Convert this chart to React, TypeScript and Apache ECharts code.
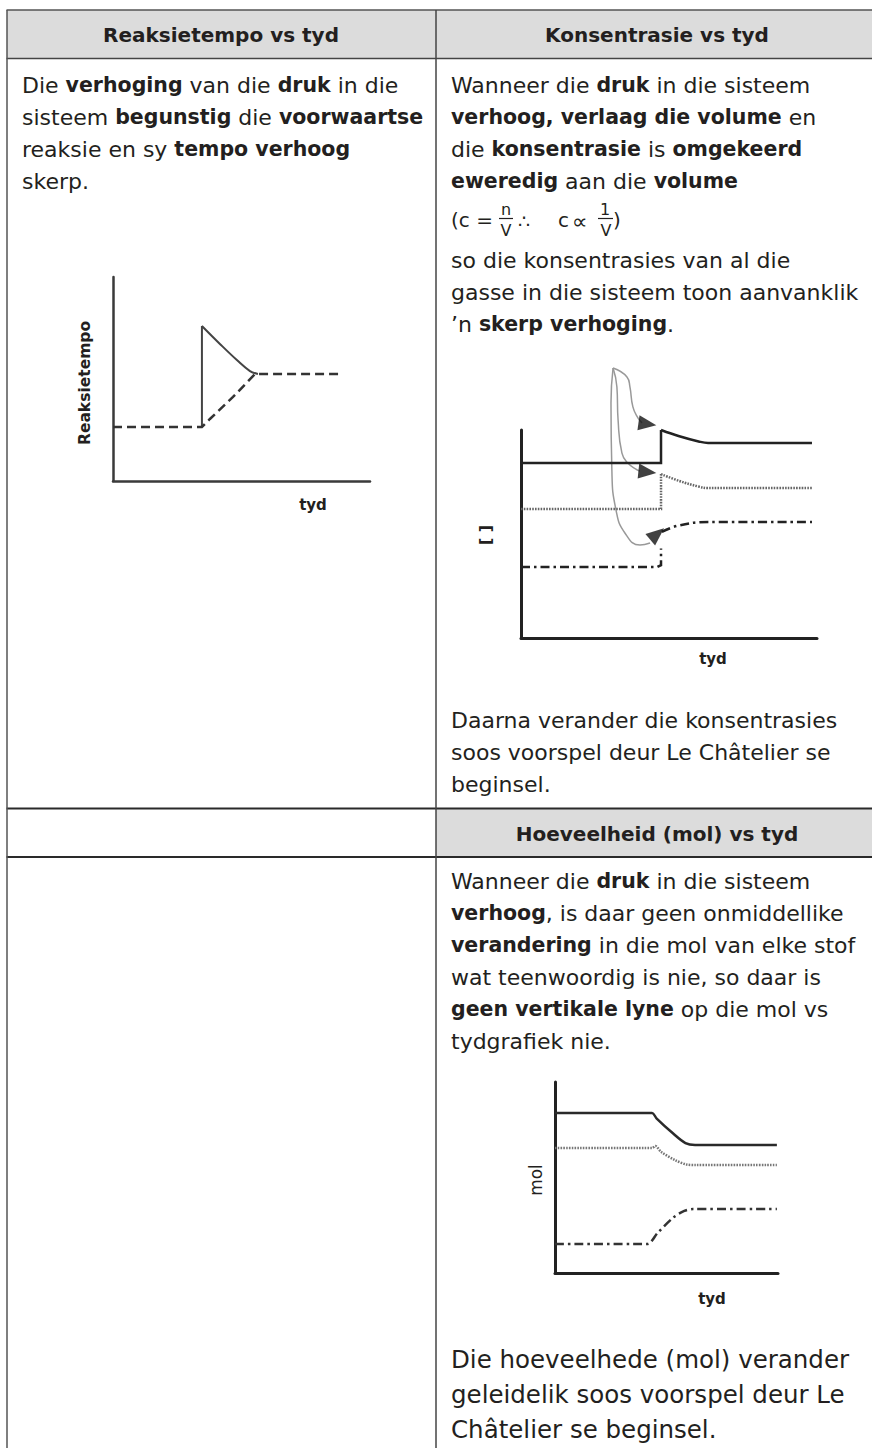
import React, { useEffect, useRef } from "react";
import * as echarts from "echarts";

// ---------- DATA ----------
// Chart 1: Reaksietempo vs tyd (x: time 0..10, y: rate 0..10)
const rateForwardJump = [[3.46, 2.65], [3.46, 7.6]];
const rateForwardDecay = [[3.46, 7.6], [4.16, 6.72], [4.82, 5.93], [5.33, 5.39], [5.64, 5.25]];
const rateReverse = [[0, 2.65], [3.46, 2.65], [3.77, 3.04], [4.67, 4.12], [5.53, 5.25], [8.95, 5.25]];

// Chart 2: Konsentrasie vs tyd
const concSolidStep = [[0, 8.41], [4.73, 8.41], [4.73, 10.0]];
const concSolidDecay = [[4.73, 10.0], [5.35, 9.7], [6.0, 9.45], [6.32, 9.375], [9.83, 9.375]];
const concDottedStep = [[0, 6.2], [4.73, 6.2], [4.73, 7.88]];
const concDottedDecay = [[4.73, 7.88], [5.35, 7.55], [6.0, 7.28], [6.32, 7.21], [9.83, 7.21]];
const concDashDotStep = [[0, 3.41], [4.6, 3.41], [4.73, 3.5], [4.73, 4.3]];
const concDashDotRise = [[4.76, 5.1], [5.3, 5.4], [6.32, 5.58], [9.83, 5.58]];
const arrowCurve1 = [[3.11, 12.98], [3.58, 12.55], [3.68, 12.07], [3.78, 11.11], [3.95, 10.58], [4.09, 10.34]];
const arrowCurve2 = [[3.11, 12.98], [3.24, 12.07], [3.28, 10.48], [3.41, 8.89], [3.61, 8.41], [3.92, 8.08], [4.02, 8.03]];
const arrowCurve3 = [[3.11, 12.98], [3.04, 11.3], [3.07, 8.08], [3.21, 6.15], [3.51, 5.05], [4.02, 4.47], [4.36, 4.57]];
const arrowHeadPoints = [[4.27, 10.29], [4.27, 7.98], [4.6, 5.0]];
const arrowHeadAngles = [-98, -96, -50];

// Chart 3: Hoeveelheid (mol) vs tyd
const molSolid = [[0, 8.38], [4.35, 8.38], [4.55, 8.1], [5.3, 7.3], [5.85, 6.8], [6.28, 6.7], [9.95, 6.7]];
const molDotted = [[0, 6.54], [4.35, 6.54], [4.5, 6.65], [4.75, 6.35], [5.4, 5.9], [5.9, 5.68], [6.28, 5.65], [9.95, 5.65]];
const molDashDot = [[0, 1.52], [4.13, 1.52], [4.6, 2.1], [5.3, 2.9], [5.8, 3.25], [6.19, 3.35], [9.95, 3.35]];

// ---------- TEXT ----------
const headerTexts = ["Reaksietempo vs tyd", "Konsentrasie vs tyd", "Hoeveelheid (mol) vs tyd"];
const leftLines = [
  "Die {b|verhoging} van die {b|druk} in die",
  "sisteem {b|begunstig} die {b|voorwaartse}",
  "reaksie en sy {b|tempo verhoog}",
  "skerp.",
];
const rightTopLines = [
  "Wanneer die {b|druk} in die sisteem",
  "{b|verhoog, verlaag die volume} en",
  "die {b|konsentrasie} is {b|omgekeerd}",
  "{b|eweredig} aan die {b|volume}",
];
const rightTopLines2 = [
  "so die konsentrasies van al die",
  "gasse in die sisteem toon aanvanklik",
  "\u2019n {b|skerp verhoging}.",
];
const daarnaLines = [
  "Daarna verander die konsentrasies",
  "soos voorspel deur Le Ch\u00e2telier se",
  "beginsel.",
];
const molLines = [
  "Wanneer die {b|druk} in die sisteem",
  "{b|verhoog}, is daar geen onmiddellike",
  "{b|verandering} in die mol van elke stof",
  "wat teenwoordig is nie, so daar is",
  "{b|geen vertikale lyne} op die mol vs",
  "tydgrafiek nie.",
];
const closingLines = [
  "Die hoeveelhede (mol) verander",
  "geleidelik soos voorspel deur Le",
  "Ch\u00e2telier se beginsel.",
];

const FONT = "'DejaVu Sans', sans-serif";
const INK = "#231f20";
const BODY = 22;
const BOLD = 20.5;

function txt(x: number, baseline: number, text: string, size: number, opts: any = {}) {
  const align = opts.align || "left";
  return {
    type: "text",
    x,
    y: opts.middle !== undefined ? opts.middle : baseline - 0.35 * size,
    rotation: opts.rotation || 0,
    silent: true,
    z: 10,
    style: {
      text,
      fontFamily: FONT,
      fontSize: size,
      fontWeight: opts.bold ? "bold" : "normal",
      fill: INK,
      align,
      verticalAlign: "middle",
      textAlign: align,
      textVerticalAlign: "middle",
      rich: {
        b: { fontFamily: FONT, fontSize: opts.boldSize || BOLD, fontWeight: "bold", fill: INK },
      },
    },
  };
}

function hline(x1: number, x2: number, y: number, w: number, color: string) {
  return { type: "line", silent: true, z: 5, shape: { x1, y1: y, x2, y2: y }, style: { stroke: color, lineWidth: w } };
}
function vline(x: number, y1: number, y2: number, w: number, color: string) {
  return { type: "line", silent: true, z: 5, shape: { x1: x, y1, x2: x, y2 }, style: { stroke: color, lineWidth: w } };
}

function buildGraphics() {
  const g: any[] = [];
  // header fills
  g.push({ type: "rect", silent: true, z: 1, shape: { x: 7, y: 10, width: 865, height: 48.5 }, style: { fill: "#dcdcdc" } });
  g.push({ type: "rect", silent: true, z: 1, shape: { x: 436, y: 808.5, width: 436, height: 48.5 }, style: { fill: "#dcdcdc" } });
  // borders
  g.push(hline(6.5, 872, 10, 1.5, "#555"));
  g.push(hline(6.5, 872, 58.5, 1.5, "#444"));
  g.push(hline(6.5, 872, 808.5, 2, "#2a2a2a"));
  g.push(hline(6.5, 872, 857, 2, "#2a2a2a"));
  g.push(vline(7, 10, 1448, 1.5, "#555"));
  g.push(vline(436, 10, 1448, 1.5, "#444"));

  // headers
  g.push(txt(221, 42, headerTexts[0], 20, { align: "center", bold: true }));
  g.push(txt(657, 42, headerTexts[1], 20, { align: "center", bold: true }));
  g.push(txt(657, 841, headerTexts[2], 20, { align: "center", bold: true }));

  leftLines.forEach((t, i) => g.push(txt(22, 93 + i * 32, t, BODY)));
  rightTopLines.forEach((t, i) => g.push(txt(451, 93 + i * 32, t, BODY)));
  rightTopLines2.forEach((t, i) => g.push(txt(451, 268 + i * 32, t, BODY)));
  daarnaLines.forEach((t, i) => g.push(txt(451, 728 + i * 32, t, BODY)));
  molLines.forEach((t, i) => g.push(txt(451, 889 + i * 32, t, BODY)));
  closingLines.forEach((t, i) => g.push(txt(451, 1368 + i * 35, t, 24.5)));

  // formula (c = n/V ∴ c ∝ 1/V)
  g.push(txt(451, 227, "(c =", 20));
  g.push(txt(506, 0, "n", 16, { align: "center", middle: 209 }));
  g.push(hline(499, 513, 218.5, 1.2, INK));
  g.push(txt(506, 0, "V", 16, { align: "center", middle: 230 }));
  g.push(txt(518, 0, "\u2234", 19, { middle: 221 }));
  g.push(txt(558, 227, "c", 20));
  g.push(txt(572, 0, "\u221d", 22, { middle: 221 }));
  g.push(txt(605, 0, "1", 16, { align: "center", middle: 209 }));
  g.push(hline(598, 613, 218.5, 1.2, INK));
  g.push(txt(606, 0, "V", 16, { align: "center", middle: 230 }));
  g.push(txt(613, 227, ")", 20));

  // chart labels
  g.push(txt(85, 0, "Reaksietempo", 15.5, { align: "center", middle: 383, bold: true, rotation: Math.PI / 2 }));
  g.push(txt(313, 0, "tyd", 15, { align: "center", middle: 505, bold: true }));
  g.push(txt(485, 0, "[ ]", 16, { align: "center", middle: 535, bold: true, rotation: Math.PI / 2 }));
  g.push(txt(713, 0, "tyd", 15, { align: "center", middle: 659, bold: true }));
  g.push(txt(536, 0, "mol", 17, { align: "center", middle: 1180, rotation: Math.PI / 2 }));
  g.push(txt(712, 0, "tyd", 15, { align: "center", middle: 1299, bold: true }));
  return g;
}

function axis(gridIndex: number, width: number, color: string) {
  return {
    gridIndex,
    type: "value",
    min: 0,
    max: 10,
    axisLine: { show: true, onZero: false, lineStyle: { color, width } },
    axisTick: { show: false },
    axisLabel: { show: false },
    splitLine: { show: false },
  };
}

function ln(data: number[][], gi: number, color: string, width: number, type: any, smooth: any = false, z = 3) {
  return {
    type: "line",
    xAxisIndex: gi,
    yAxisIndex: gi,
    data,
    symbol: "none",
    showSymbol: false,
    smooth,
    clip: false,
    silent: true,
    z,
    lineStyle: { color, width, type, cap: "butt", join: "miter" },
  };
}

const DASHDOT = [9, 4, 2.5, 4];
const DOTTED = [1.6, 1.2];

export default function App() {
  const ref = useRef<HTMLDivElement>(null);
  useEffect(() => {
    document.body.style.margin = "0";
    const chart = echarts.init(ref.current as HTMLDivElement, null, { renderer: "svg" });
    const option: any = {
      animation: false,
      backgroundColor: "#ffffff",
      grid: [
        { left: 113, top: 277, width: 257, height: 204 },
        { left: 521, top: 430, width: 296, height: 208 },
        { left: 555, top: 1082, width: 223, height: 191 },
      ],
      xAxis: [axis(0, 2.5, "#3a3a3a"), axis(1, 3, "#222"), axis(2, 3, "#222")],
      yAxis: [axis(0, 2.5, "#3a3a3a"), axis(1, 3, "#222"), axis(2, 3, "#222")],
      series: [
        // chart 1
        ln(rateForwardJump, 0, "#444", 2, "solid"),
        ln(rateForwardDecay, 0, "#444", 2, "solid", 0.4),
        ln(rateReverse, 0, "#333", 2.5, [9, 5], false, 4),
        // chart 2
        ln(arrowCurve1, 1, "#999", 1.5, "solid", 0.5, 2),
        ln(arrowCurve2, 1, "#999", 1.5, "solid", 0.5, 2),
        ln(arrowCurve3, 1, "#999", 1.5, "solid", 0.5, 2),
        ln(concSolidStep, 1, "#222", 2.5, "solid"),
        ln(concSolidDecay, 1, "#222", 2.5, "solid", 0.4),
        ln(concDottedStep, 1, "#666", 2.5, DOTTED),
        ln(concDottedDecay, 1, "#666", 2.5, DOTTED, 0.4),
        ln(concDashDotStep, 1, "#222", 2.5, DASHDOT),
        ln(concDashDotRise, 1, "#222", 2.5, DASHDOT, 0.4),
        {
          type: "scatter",
          xAxisIndex: 1,
          yAxisIndex: 1,
          clip: false,
          silent: true,
          z: 5,
          symbol: "triangle",
          symbolSize: [15, 18],
          itemStyle: { color: "#111" },
          data: arrowHeadPoints.map((p, i) => ({ value: p, symbolRotate: arrowHeadAngles[i] })),
        },
        // chart 3
        ln(molSolid, 2, "#2a2a2a", 2.5, "solid", 0.3),
        ln(molDotted, 2, "#777", 2.5, DOTTED, 0.3),
        ln(molDashDot, 2, "#333", 2.5, DASHDOT, 0.3),
      ],
      graphic: buildGraphics(),
    };
    chart.setOption(option);
    return () => chart.dispose();
  }, []);
  return <div ref={ref} style={{ position: "absolute", left: 0, top: 0, width: 872, height: 1448, background: "#fff" }} />;
}
